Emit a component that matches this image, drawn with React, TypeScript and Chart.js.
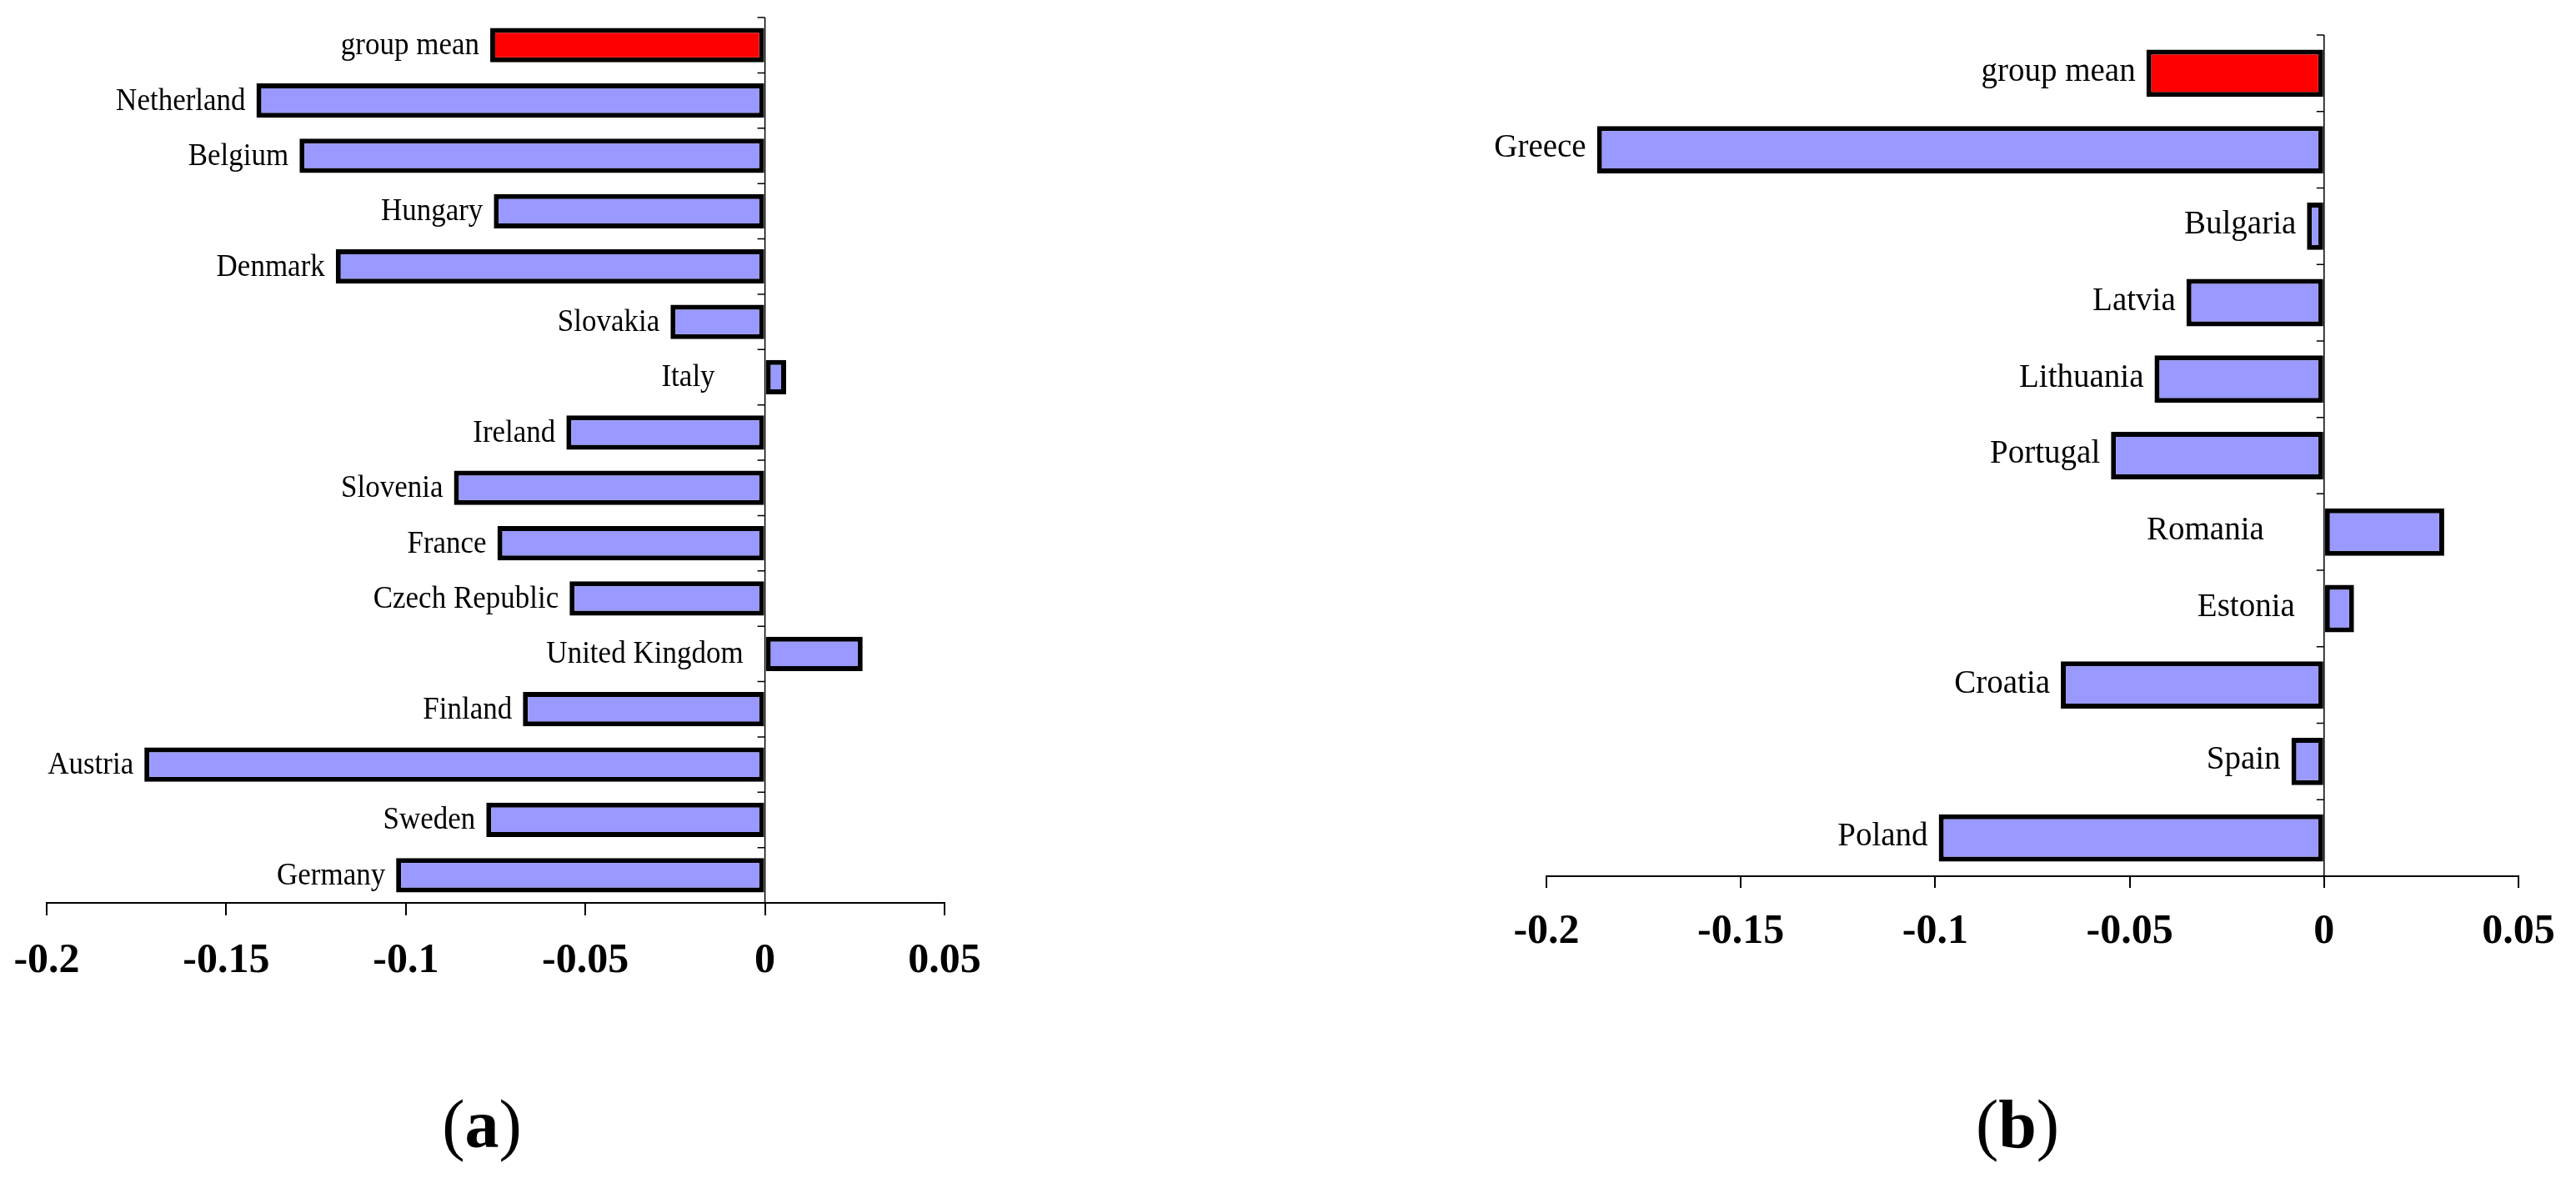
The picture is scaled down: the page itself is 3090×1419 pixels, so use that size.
import React, { useEffect, useRef } from 'react';
import { Chart, registerables } from 'chart.js';

Chart.register(...registerables);

// ---------------- data ----------------
const leftCategories = [
  'group mean', 'Netherland', 'Belgium', 'Hungary', 'Denmark', 'Slovakia', 'Italy', 'Ireland',
  'Slovenia', 'France', 'Czech Republic', 'United Kingdom', 'Finland', 'Austria', 'Sweden', 'Germany',
];
const leftValues = [
  -0.0765, -0.1416, -0.1296, -0.0755, -0.1195, -0.0263, 0.0059, -0.0553,
  -0.0866, -0.0745, -0.0544, 0.0272, -0.0674, -0.1728, -0.0776, -0.1027,
];

const rightCategories = [
  'group mean', 'Greece', 'Bulgaria', 'Latvia', 'Lithuania', 'Portugal', 'Romania', 'Estonia',
  'Croatia', 'Spain', 'Poland',
];
const rightValues = [
  -0.0457, -0.187, -0.0044, -0.0354, -0.0436, -0.0548, 0.0309, 0.0077, -0.0677, -0.0084, -0.0991,
];

const xTickValues = [-0.2, -0.15, -0.1, -0.05, 0, 0.05];
const xTickLabels = ['-0.2', '-0.15', '-0.1', '-0.05', '0', '0.05'];
const meanLabel = 'group mean';
const panelCaptions = ['a', 'b'];

// ---------------- styles ----------------
const BLUE = '#9999FF';
const RED = '#FF0000';
const SERIF = '"Liberation Serif", "Times New Roman", serif';

type PanelCfg = {
  categories: string[];
  values: number[];
  canvasLeft: number;
  canvasWidth: number;
  padLeft: number;
  padRight: number;
  padTop: number;
  axisHeight: number;
  tickLen: number;
  tickPad: number;
  labelSize: number;
  labelScaleY: number;
  labelShiftY: number;
  labelGap: number;
  positiveGap: Record<string, number>;
  zeroLineWidth: number;
};

function makeDecorPlugin(cfg: PanelCfg) {
  return {
    id: 'panelDecor',
    afterDatasetsDraw(chart: any) {
      const ctx = chart.ctx as CanvasRenderingContext2D;
      const area = chart.chartArea;
      const xs = chart.scales.x;
      const ys = chart.scales.y;
      const x0 = xs.getPixelForValue(0);
      ctx.save();
      // zero axis line with category-boundary ticks
      ctx.strokeStyle = '#000';
      ctx.lineWidth = cfg.zeroLineWidth;
      ctx.beginPath();
      ctx.moveTo(x0, area.top);
      ctx.lineTo(x0, area.bottom);
      for (let i = 0; i < cfg.categories.length; i++) {
        const yb = ys.getPixelForValue(i - 0.5);
        ctx.moveTo(x0 - 9, yb);
        ctx.lineTo(x0, yb);
      }
      ctx.stroke();

      // category labels next to bars
      const meta = chart.getDatasetMeta(0);
      ctx.fillStyle = '#000';
      ctx.font = `${cfg.labelSize}px ${SERIF}`;
      ctx.textAlign = 'right';
      ctx.textBaseline = 'alphabetic';
      const capH = 0.662 * cfg.labelSize * cfg.labelScaleY;
      meta.data.forEach((el: any, i: number) => {
        const label = cfg.categories[i];
        const v = cfg.values[i];
        const leftEdge = Math.min(el.x, el.base);
        const lx = v < 0 ? leftEdge - cfg.labelGap : x0 - (cfg.positiveGap[label] ?? 30);
        const ly = el.y + capH / 2 + cfg.labelShiftY;
        ctx.save();
        ctx.translate(lx, ly);
        ctx.scale(1, cfg.labelScaleY);
        ctx.fillText(label, 0, 0);
        ctx.restore();
      });
      ctx.restore();
    },
  };
}

function Panel({ cfg }: { cfg: PanelCfg }) {
  const ref = useRef<HTMLCanvasElement | null>(null);
  useEffect(() => {
    if (!ref.current) return;
    const chart = new Chart(ref.current, {
      type: 'bar',
      data: {
        labels: cfg.categories,
        datasets: [
          {
            data: cfg.values,
            backgroundColor: cfg.categories.map((c) => (c === meanLabel ? RED : BLUE)),
            borderColor: '#000',
            borderWidth: 6,
            borderSkipped: false,
            barPercentage: 0.62,
            categoryPercentage: 1,
          },
        ],
      },
      options: {
        indexAxis: 'y',
        animation: false,
        responsive: false,
        maintainAspectRatio: false,
        layout: { padding: { left: cfg.padLeft, right: cfg.padRight, top: cfg.padTop, bottom: 0 } },
        plugins: {
          legend: { display: false },
          tooltip: { enabled: false },
          title: { display: false },
        },
        scales: {
          x: {
            type: 'linear',
            min: xTickValues[0],
            max: xTickValues[xTickValues.length - 1],
            afterBuildTicks: (s: any) => {
              s.ticks = xTickValues.map((v) => ({ value: v }));
            },
            afterFit: (s: any) => {
              s.height = cfg.axisHeight;
            },
            ticks: {
              autoSkip: false,
              maxRotation: 0,
              minRotation: 0,
              color: '#000',
              padding: cfg.tickPad,
              font: { family: SERIF, size: 50, weight: 'bold', lineHeight: 1.2 },
              callback: (_v: any, i: number) => xTickLabels[i],
            },
            grid: {
              drawOnChartArea: false,
              drawTicks: true,
              tickLength: cfg.tickLen,
              color: '#000',
              lineWidth: 2,
            },
            border: { display: true, color: '#000', width: 2 },
          },
          y: {
            type: 'category',
            display: false,
            offset: true,
          },
        },
      },
      plugins: [makeDecorPlugin(cfg)],
    } as any);
    return () => chart.destroy();
  }, [cfg]);
  return (
    <canvas
      ref={ref}
      width={cfg.canvasWidth}
      height={1419}
      style={{ position: 'absolute', left: cfg.canvasLeft, top: 0, width: cfg.canvasWidth, height: 1419 }}
    />
  );
}

const leftCfg: PanelCfg = {
  categories: leftCategories,
  values: leftValues,
  canvasLeft: -60,
  canvasWidth: 1620,
  padLeft: 116,
  padRight: 1560 - 1133,
  padTop: 21,
  axisHeight: 1419 - 1083,
  tickLen: 15,
  tickPad: 25,
  labelSize: 35,
  labelScaleY: 1.08,
  labelShiftY: -1.5,
  labelGap: 13,
  positiveGap: { Italy: 60, 'United Kingdom': 26 },
  zeroLineWidth: 1.5,
};

const rightCfg: PanelCfg = {
  categories: rightCategories,
  values: rightValues,
  canvasLeft: 1560,
  canvasWidth: 1530,
  padLeft: 1855 - 1560,
  padRight: 3090 - 3021,
  padTop: 42,
  axisHeight: 1419 - 1051,
  tickLen: 14,
  tickPad: 23,
  labelSize: 39,
  labelScaleY: 1.0,
  labelShiftY: -4,
  labelGap: 13,
  positiveGap: { Romania: 72, Estonia: 35 },
  zeroLineWidth: 1.5,
};

const captionStyle = (cx: number): React.CSSProperties => ({
  position: 'absolute',
  left: cx - 100,
  top: 1308,
  width: 200,
  textAlign: 'center',
  fontFamily: SERIF,
  fontSize: 82,
  lineHeight: '82px',
  color: '#000',
});

export default function App() {
  useEffect(() => {
    document.body.style.margin = '0';
  }, []);
  return (
    <div style={{ position: 'relative', width: 3090, height: 1419, background: '#fff', overflow: 'hidden' }}>
      <Panel cfg={leftCfg} />
      <Panel cfg={rightCfg} />
      <div style={captionStyle(578)}>
        (<b>{panelCaptions[0]}</b>)
      </div>
      <div style={captionStyle(2420)}>
        (<b>{panelCaptions[1]}</b>)
      </div>
    </div>
  );
}
